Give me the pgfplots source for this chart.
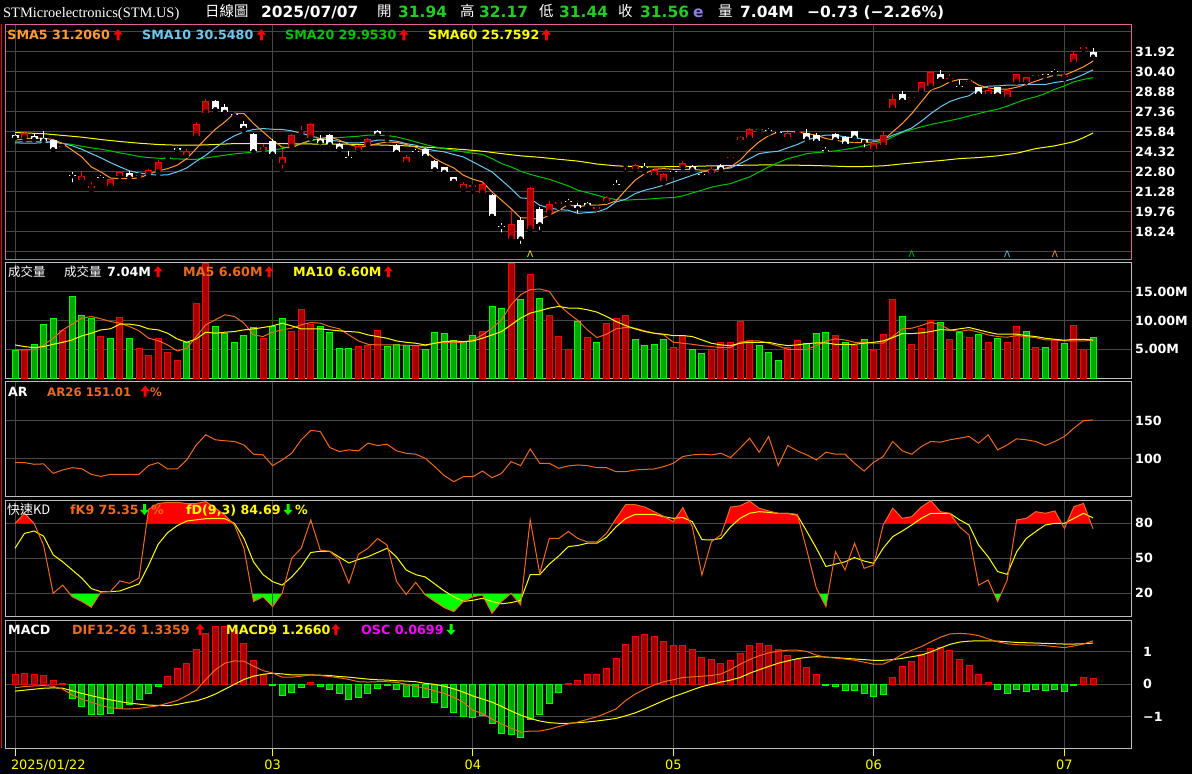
\documentclass[border=0pt]{standalone}
\usepackage{pgfplots}
\pgfplotsset{compat=1.18}
\usepackage{pgfplotstable}
\usepackage{fontspec}
\setmainfont{DejaVu Sans}
\newfontfamily\cjk{Noto Sans CJK TC}
\newfontfamily\serifF{Liberation Serif}
\definecolor{gridc}{HTML}{474747}
\definecolor{pinkb}{HTML}{E2609C}
\definecolor{greyb}{HTML}{BEBEBE}
\definecolor{cred}{HTML}{FF0000}
\definecolor{cdark}{HTML}{A80000}
\definecolor{gfill}{HTML}{00A800}
\definecolor{gline}{HTML}{00FF00}
\definecolor{smaA}{HTML}{FF9A30}
\definecolor{smaB}{HTML}{6CC8F2}
\definecolor{smaC}{HTML}{00C400}
\definecolor{yel}{HTML}{FFFF00}
\definecolor{org}{HTML}{EE6A1E}
\definecolor{hgreen}{HTML}{22CC22}
\definecolor{magc}{HTML}{FF00FF}
\definecolor{purp}{HTML}{8C7BE6}
\newcommand\hf{\fontsize{15.5}{18}\selectfont\bfseries}
\newcommand\cf{\fontsize{14.5}{17}\selectfont\cjk}
\newcommand\lf{\fontsize{12.7}{15}\selectfont\bfseries}
% arrow glyphs drawn as shapes: #1 = centre x, #2 = top y (px from top), #3 = colour
\newcommand\uparr[3]{\begin{scope}[shift={(#1bp,-#2bp)}]\fill[#3] (-4.6bp,-5.2bp) -- (0,0) -- (4.6bp,-5.2bp) -- (1.5bp,-5.2bp) -- (1.5bp,-11bp) -- (-1.5bp,-11bp) -- (-1.5bp,-5.2bp) -- cycle;\end{scope}}
\newcommand\dnarr[3]{\begin{scope}[shift={(#1bp,-#2bp)}]\fill[#3] (-1.5bp,0) -- (1.5bp,0) -- (1.5bp,-5.8bp) -- (4.6bp,-5.8bp) -- (0,-11bp) -- (-4.6bp,-5.8bp) -- (-1.5bp,-5.8bp) -- cycle;\end{scope}}

\pgfplotstableread{
i o h l c
0 25.60 25.65 25.35 25.40
1 25.39 25.85 25.20 25.79
2 25.54 25.65 25.20 25.28
3 25.39 25.89 24.95 25.18
4 25.21 25.25 24.32 24.52
5 24.70 24.90 24.55 24.80
6 22.55 22.80 21.86 22.47
7 22.22 22.90 22.12 22.47
8 21.60 22.02 21.28 21.70
9 22.42 22.60 22.17 22.35
10 21.74 22.35 21.59 22.29
11 22.50 22.80 22.17 22.77
12 22.70 22.85 22.25 22.40
13 22.50 22.60 22.30 22.60
14 22.62 23.00 22.55 22.93
15 22.80 23.69 22.55 23.56
16 23.85 24.00 23.61 23.90
17 24.55 24.70 24.32 24.50
18 24.07 24.57 24.02 24.42
19 25.54 26.60 25.46 26.47
20 27.31 28.30 27.25 28.22
21 28.15 28.25 27.44 27.56
22 27.74 27.94 27.28 27.36
23 27.15 27.28 26.83 27.10
24 26.45 26.65 25.89 26.14
25 25.69 25.75 24.27 24.37
26 24.47 24.90 24.19 24.68
27 25.18 25.28 23.94 24.19
28 23.51 24.52 22.88 23.92
29 24.70 25.65 24.65 25.59
30 25.72 26.27 25.59 25.80
31 25.39 26.50 25.30 26.47
32 25.33 25.64 24.65 25.03
33 25.59 25.65 24.57 24.90
34 24.95 25.00 24.45 24.57
35 23.90 24.37 23.69 23.85
36 24.45 24.85 24.27 24.78
37 24.83 25.40 24.80 25.33
38 25.94 26.00 25.60 25.66
39 25.55 25.79 25.21 25.60
40 24.88 24.95 24.30 24.32
41 23.56 24.05 23.50 23.94
42 24.35 24.52 24.12 24.30
43 24.57 24.65 23.97 24.02
44 23.61 23.71 22.75 23.00
45 23.16 23.20 22.67 22.80
46 22.40 22.45 22.05 22.12
47 21.59 22.04 21.36 21.91
48 21.65 21.84 21.28 21.80
49 21.23 21.95 21.20 21.91
50 21.08 21.10 19.44 19.46
51 18.67 18.95 18.04 18.62
52 17.74 19.89 17.48 18.88
53 19.13 19.38 17.18 17.74
54 18.50 21.68 18.24 21.61
55 19.96 20.14 18.24 18.82
56 19.71 20.57 19.56 20.39
57 20.40 20.65 20.06 20.45
58 20.55 20.72 20.27 20.50
59 20.32 20.44 19.46 20.06
60 20.47 20.52 20.06 20.27
61 20.00 20.12 19.56 20.10
62 20.60 20.95 20.55 20.85
63 21.86 22.17 21.59 21.82
64 23.28 23.46 22.80 23.33
65 23.00 23.38 22.93 23.31
66 23.13 23.46 22.77 23.08
67 22.60 23.18 22.50 22.98
68 22.14 22.72 21.91 22.67
69 22.82 23.00 22.60 22.78
70 23.10 23.61 23.06 23.46
71 23.26 23.36 22.88 23.00
72 22.62 22.80 22.40 22.57
73 22.75 23.18 22.55 23.05
74 23.26 23.41 22.88 23.00
75 23.82 24.07 23.69 23.90
76 25.23 25.49 24.88 25.44
77 25.39 26.12 25.33 26.09
78 26.00 26.24 25.89 26.06
79 25.96 26.10 25.72 25.92
80 25.82 25.89 25.64 25.77
81 25.46 25.82 25.40 25.79
82 25.74 25.94 25.66 25.79
83 25.79 26.09 25.08 25.33
84 25.64 25.79 25.08 25.16
85 24.47 24.68 24.24 24.42
86 25.71 25.75 25.20 25.28
87 25.46 25.50 24.90 24.95
88 25.89 25.94 25.21 25.41
89 25.28 25.33 24.50 25.08
90 24.57 25.05 24.50 25.03
91 24.83 25.89 24.70 25.64
92 27.66 28.68 27.66 28.37
93 28.75 28.98 28.09 28.25
94 28.42 28.63 28.27 28.47
95 28.96 29.65 28.90 29.59
96 29.31 30.45 29.20 30.40
97 30.27 30.53 29.72 29.84
98 29.86 30.20 29.74 29.92
99 29.30 29.77 29.14 29.26
100 29.60 29.77 29.44 29.70
101 29.21 29.25 28.63 28.75
102 28.68 29.31 28.63 29.01
103 29.21 29.25 28.42 28.68
104 28.45 29.05 28.40 29.01
105 29.64 30.25 29.60 30.20
106 29.59 30.00 29.14 29.97
107 30.10 30.32 29.94 30.15
108 30.17 30.32 29.84 30.12
109 30.45 30.60 30.22 30.40
110 29.97 30.32 29.82 30.07
111 31.11 31.92 31.11 31.72
112 32.10 32.35 32.05 32.29
113 31.94 32.17 31.44 31.56
}\ohlc

\pgfplotstableread{
i s5 s10 s20
0 25.21 25.00 25.08
1 25.30 24.99 25.10
2 25.39 24.98 25.13
3 25.35 25.03 25.10
4 25.26 25.08 25.08
5 24.95 24.95 24.98
6 24.45 24.78 24.88
7 23.94 24.52 24.75
8 23.18 24.19 24.63
9 22.80 23.87 24.52
10 22.34 23.51 24.40
11 22.29 23.18 24.24
12 22.29 22.88 24.12
13 22.34 22.72 23.97
14 22.62 22.62 23.89
15 22.88 22.55 23.84
16 23.05 22.58 23.81
17 23.31 22.80 23.79
18 23.81 23.10 23.76
19 24.57 23.60 23.76
20 25.33 24.07 23.86
21 26.04 24.63 23.97
22 26.60 25.13 24.07
23 27.26 25.54 24.17
24 27.23 25.84 24.24
25 26.47 26.02 24.29
26 25.84 26.09 24.37
27 25.21 26.04 24.45
28 24.68 26.02 24.57
29 24.63 25.92 24.75
30 24.95 25.74 24.95
31 25.21 25.54 25.16
32 25.33 25.33 25.33
33 25.46 25.21 25.41
34 25.21 25.13 25.41
35 24.88 25.00 25.46
36 24.70 25.00 25.51
37 24.78 25.08 25.59
38 24.95 25.21 25.59
39 25.08 25.21 25.56
40 25.03 25.13 25.46
41 24.88 24.95 25.28
42 24.68 24.83 25.08
43 24.37 24.57 24.88
44 23.81 24.42 24.70
45 23.43 24.32 24.57
46 23.10 24.12 24.45
47 22.55 23.94 24.32
48 22.24 23.56 24.22
49 22.04 23.18 24.12
50 21.28 22.80 23.81
51 20.65 22.17 23.43
52 20.01 21.53 23.18
53 19.31 20.83 22.85
54 19.31 20.77 22.62
55 19.18 20.27 22.42
56 19.51 20.06 22.24
57 19.89 19.94 21.99
58 20.32 19.89 21.74
59 20.14 19.65 21.41
60 20.27 19.71 21.23
61 20.27 19.76 21.03
62 20.34 20.01 20.83
63 20.60 20.52 20.70
64 21.41 20.72 20.65
65 22.17 21.15 20.70
66 22.67 21.41 20.72
67 23.00 21.59 20.77
68 23.05 21.79 20.83
69 23.00 22.04 20.85
70 23.00 22.29 20.98
71 23.00 22.55 21.20
72 22.93 22.80 21.41
73 22.93 22.93 21.64
74 23.00 23.00 21.79
75 23.18 23.10 21.91
76 23.69 23.43 22.17
77 24.45 23.81 22.42
78 25.08 24.19 22.80
79 25.55 24.30 23.18
80 25.84 24.37 23.51
81 25.89 24.63 23.81
82 25.84 24.88 23.99
83 25.71 25.21 24.19
84 25.59 25.46 24.27
85 25.33 25.59 24.32
86 25.21 25.59 24.40
87 25.08 25.46 24.50
88 25.03 25.39 24.63
89 25.03 25.28 24.78
90 25.08 25.21 24.93
91 25.21 25.26 25.08
92 25.84 25.59 25.46
93 26.47 25.84 25.79
94 27.23 26.14 26.02
95 28.12 26.65 26.22
96 29.01 27.23 26.40
97 29.26 27.74 26.55
98 29.64 28.15 26.70
99 29.82 28.40 26.85
100 29.82 28.58 27.05
101 29.39 29.08 27.23
102 29.18 29.31 27.41
103 29.08 29.33 27.56
104 29.08 29.39 27.79
105 29.23 29.39 28.07
106 29.44 29.44 28.32
107 29.69 29.44 28.50
108 29.94 29.44 28.75
109 30.15 29.59 29.08
110 30.15 29.69 29.33
111 30.45 29.89 29.64
112 30.78 30.20 29.82
113 31.21 30.55 29.95
}\sma

\pgfplotstableread{
i s60
0 25.79
3 25.70
5 25.57
7 25.44
9 25.26
11 25.11
13 24.98
15 24.88
17 24.83
19 24.83
21 24.88
23 24.95
27 24.95
31 24.92
35 24.90
39 24.83
41 24.78
43 24.68
45 24.60
47 24.50
49 24.37
51 24.19
53 24.02
55 23.91
57 23.76
59 23.62
61 23.40
63 23.26
65 23.21
67 23.18
69 23.20
71 23.22
73 23.26
75 23.28
77 23.32
79 23.33
83 23.30
85 23.26
87 23.21
89 23.21
91 23.26
93 23.41
95 23.54
97 23.66
99 23.81
101 23.89
103 24.02
105 24.22
107 24.57
109 24.78
111 25.10
112 25.40
113 25.76
}\smaS

\pgfplotstableread{
i v r m5 m10
0 4.71 0 4.88 5.76
1 4.88 1 4.88 5.47
2 5.76 0 4.88 5.29
3 9.24 0 5.76 5.47
4 10.29 0 6.92 5.87
5 8.31 1 8.37 6.22
6 14.13 0 9.36 6.63
7 10.81 0 10.40 7.33
8 10.41 0 10.70 7.79
9 7.15 1 10.29 8.37
10 6.80 0 9.83 8.55
11 10.47 1 9.53 9.36
12 6.80 0 8.95 9.36
13 5.06 1 8.20 9.13
14 3.84 1 6.92 8.55
15 6.80 1 6.51 8.37
16 4.36 1 5.76 7.79
17 3.14 1 4.71 6.80
18 6.22 0 5.17 6.22
19 12.91 1 7.21 6.80
20 19.90 1 9.24 7.97
21 8.90 0 10.12 7.79
22 7.79 0 10.99 7.97
23 6.10 0 10.70 8.08
24 7.33 0 9.53 8.37
25 8.72 0 7.50 8.55
26 6.80 1 7.21 8.78
27 8.95 0 7.97 9.07
28 10.29 0 8.37 9.53
29 8.02 1 8.66 9.07
30 11.86 1 9.24 8.55
31 9.24 1 9.65 8.55
32 8.90 0 9.53 8.55
33 7.97 0 8.95 8.37
34 5.17 0 8.55 8.20
35 5.17 0 7.50 8.08
36 5.41 1 6.45 7.97
37 5.58 1 5.87 7.50
38 8.20 1 5.75 7.21
39 5.41 0 5.75 6.92
40 5.76 0 5.75 6.45
41 5.58 0 5.70 6.22
42 5.58 1 5.64 6.05
43 5.00 0 5.64 5.76
44 7.85 0 6.05 6.05
45 7.67 0 6.22 6.34
46 6.45 0 6.22 6.45
47 6.34 0 6.22 6.34
48 7.33 0 6.63 6.45
49 8.02 1 7.50 6.92
50 12.38 0 8.66 7.50
51 12.03 0 10.12 8.08
52 19.90 1 12.73 9.24
53 13.60 0 14.48 10.41
54 17.97 1 15.35 11.28
55 13.90 0 15.47 11.69
56 10.81 1 15.06 12.15
57 7.15 1 12.73 12.44
58 5.00 1 11.28 12.15
59 9.83 0 10.00 12.15
60 6.98 1 8.37 11.86
61 6.22 0 7.03 11.45
62 9.42 1 7.62 10.70
63 10.29 1 8.55 9.83
64 10.93 1 8.78 9.13
65 6.63 0 8.66 8.55
66 5.58 0 8.20 8.08
67 5.76 0 7.79 7.79
68 6.74 0 7.50 7.62
69 5.23 1 6.22 7.38
70 7.33 1 6.05 7.38
71 5.00 0 5.87 7.21
72 4.19 0 5.64 6.63
73 4.88 1 5.47 6.05
74 6.22 1 5.29 5.76
75 6.10 1 5.29 5.64
76 9.77 1 6.22 6.05
77 6.51 1 6.45 6.22
78 5.58 0 6.45 6.22
79 4.48 0 6.05 6.22
80 2.97 0 5.58 5.87
81 5.29 1 5.00 5.64
82 6.45 1 5.00 5.76
83 6.05 0 5.00 5.99
84 7.67 0 5.64 6.10
85 7.85 0 6.45 6.10
86 7.33 1 6.80 5.87
87 6.22 0 6.63 5.87
88 5.58 1 6.22 5.87
89 6.74 0 6.22 6.05
90 4.71 1 6.05 6.22
91 7.62 1 6.05 6.45
92 13.72 1 7.21 7.03
93 10.76 0 8.55 7.73
94 5.76 1 8.66 7.73
95 8.55 1 9.13 7.85
96 9.94 1 9.71 8.08
97 9.71 0 9.24 8.43
98 6.74 1 8.37 8.31
99 7.97 0 8.08 8.55
100 6.98 1 8.37 8.78
101 7.50 0 7.97 8.37
102 6.22 1 7.50 7.97
103 6.92 0 7.21 7.62
104 6.10 1 7.09 7.62
105 8.90 1 7.38 7.62
106 8.14 0 7.21 7.38
107 5.23 1 7.03 7.21
108 5.35 0 6.63 6.92
109 6.57 1 6.63 6.74
110 5.93 0 6.45 6.57
111 9.07 1 6.45 6.74
112 4.88 1 6.45 6.74
113 7.09 0 6.60 6.60
}\vol

\pgfplotstableread{
i a
0 94.7
1 94.7
2 92.5
3 93.0
4 80.5
5 85.0
6 88.0
7 86.5
8 79.2
9 76.5
10 79.2
11 79.2
12 79.2
13 79.2
14 90.7
15 94.7
16 86.3
17 86.3
18 98.2
19 118.0
20 131.4
21 124.8
22 123.5
23 122.6
24 118.0
25 105.8
26 104.9
27 90.7
28 98.2
29 107.0
30 124.8
31 137.2
32 135.8
33 114.6
34 109.3
35 111.5
36 110.2
37 120.4
38 117.3
39 119.0
40 110.2
41 107.0
42 105.8
43 100.4
44 89.4
45 77.4
46 69.5
47 76.1
48 76.1
49 83.6
50 74.8
51 80.5
52 96.0
53 90.7
54 112.8
55 93.8
56 93.8
57 87.2
58 90.3
59 91.6
60 90.7
61 88.0
62 88.0
63 82.7
64 82.7
65 85.0
66 85.8
67 86.3
68 89.4
69 93.8
70 102.7
71 104.9
72 105.8
73 104.9
74 107.0
75 101.3
76 113.7
77 127.0
78 108.4
79 129.2
80 90.7
81 117.3
82 110.2
83 104.9
84 98.2
85 108.4
86 105.8
87 105.8
88 93.8
89 83.6
90 95.1
91 102.7
92 122.6
93 110.2
94 105.8
95 115.9
96 122.6
97 121.7
98 124.8
99 127.0
100 129.2
101 120.4
102 131.4
103 111.5
104 118.0
105 126.1
106 124.8
107 122.6
108 117.3
109 122.6
110 129.2
111 140.3
112 150.0
113 151.0
}\ar

\pgfplotstableread{
i k d
0 80 58.6
1 88.6 71.4
2 80 73.4
3 61 69
4 20 53
5 27 47
6 17 40
7 13 33
8 8 24
9 21 21.4
10 21.5 21.4
11 30.6 22
12 28.6 25
13 33 28
14 92 44
15 97 62
16 98 72
17 98 78
18 97 82
19 97 83
20 98.6 84
21 93 84.3
22 87 84
23 78.6 80
24 58.6 67
25 13 47
26 17 36
27 8.6 30
28 20 27
29 50 34
30 58.6 43
31 82.9 55
32 57 56
33 56 56
34 48.6 51
35 28.6 46
36 53.4 49
37 58.6 51.4
38 67 55
39 61.4 58.6
40 30 51
41 19 40
42 29.4 36
43 18.6 34
44 13 28
45 7.7 22
46 4.3 17
47 13 13
48 17 14
49 18.6 15.7
50 2.9 13
51 13 11
52 20 12
53 10 14
54 83 36
55 37 36
56 67 45
57 67 52
58 73 60
59 67 61
60 64 63
61 64 63
62 71.4 68
63 84 77
64 96 84
65 96 87.7
66 94 87.7
67 90 87.7
68 86 85.7
69 81.4 84.3
70 93.4 85
71 77 81.4
72 35.7 66
73 64.3 65.7
74 70 67
75 94 77
76 95 84.3
77 99 88.6
78 93 90
79 90.6 89.4
80 88.6 88.6
81 88.6 88.6
82 87.7 87
83 57 73
84 24.3 58.6
85 8.6 43
86 55.7 45
87 40 47
88 62.9 50.6
89 41.4 47.7
90 44.3 45.7
91 78.6 58.6
92 93 68.6
93 84.3 73.4
94 85.7 78.6
95 94 84.3
96 99.4 88.6
97 90 88.6
98 88.6 88.6
99 77 83
100 70 78.6
101 27 61.4
102 31.4 51.4
103 13 38.6
104 31.4 36.3
105 82.9 55.7
106 84.3 67
107 90 73
108 88.6 78.6
109 90.6 80
110 75.7 80
111 94.3 84.3
112 97 88.6
113 75.35 84.69
}\kd

\pgfplotstableread{
i h dif dea
0 0.29 -0.10 -0.21
1 0.34 -0.07 -0.18
2 0.31 -0.05 -0.15
3 0.28 -0.04 -0.12
4 0.12 -0.06 -0.11
5 0.03 -0.15 -0.12
6 -0.43 -0.33 -0.20
7 -0.69 -0.45 -0.28
8 -0.92 -0.55 -0.35
9 -0.92 -0.65 -0.42
10 -0.89 -0.72 -0.48
11 -0.74 -0.75 -0.53
12 -0.62 -0.76 -0.58
13 -0.46 -0.74 -0.61
14 -0.28 -0.70 -0.64
15 -0.07 -0.66 -0.65
16 0.23 -0.58 -0.66
17 0.49 -0.50 -0.62
18 0.65 -0.35 -0.56
19 1.06 -0.18 -0.51
20 1.57 0.15 -0.42
21 1.79 0.45 -0.30
22 1.79 0.65 -0.15
23 1.67 0.72 0.00
24 1.26 0.71 0.15
25 0.73 0.56 0.25
26 0.31 0.42 0.31
27 -0.04 0.35 0.34
28 -0.35 0.22 0.32
29 -0.25 0.22 0.29
30 -0.10 0.25 0.29
31 0.06 0.29 0.29
32 -0.06 0.27 0.28
33 -0.17 0.24 0.27
34 -0.29 0.20 0.24
35 -0.46 0.15 0.22
36 -0.41 0.08 0.19
37 -0.29 0.07 0.16
38 -0.12 0.08 0.14
39 -0.04 0.08 0.13
40 -0.15 0.06 0.11
41 -0.36 0.00 0.10
42 -0.38 -0.06 0.08
43 -0.41 -0.12 0.03
44 -0.55 -0.20 0.00
45 -0.72 -0.28 -0.06
46 -0.86 -0.40 -0.14
47 -0.99 -0.55 -0.24
48 -1.03 -0.80 -0.36
49 -0.96 -0.90 -0.45
50 -1.20 -1.07 -0.55
51 -1.51 -1.22 -0.68
52 -1.56 -1.35 -0.82
53 -1.64 -1.47 -0.95
54 -1.08 -1.44 -1.05
55 -0.94 -1.44 -1.13
56 -0.58 -1.38 -1.18
57 -0.25 -1.30 -1.20
58 0.03 -1.22 -1.20
59 0.12 -1.16 -1.18
60 0.29 -1.08 -1.16
61 0.31 -1.00 -1.13
62 0.49 -0.88 -1.09
63 0.80 -0.76 -1.05
64 1.23 -0.50 -0.97
65 1.47 -0.30 -0.88
66 1.54 -0.15 -0.76
67 1.47 -0.02 -0.63
68 1.33 0.08 -0.50
69 1.21 0.14 -0.38
70 1.18 0.21 -0.28
71 1.06 0.23 -0.17
72 0.83 0.25 -0.07
73 0.75 0.27 0.00
74 0.65 0.32 0.07
75 0.72 0.45 0.13
76 0.95 0.62 0.21
77 1.18 0.76 0.34
78 1.26 0.88 0.45
79 1.21 0.97 0.55
80 1.08 1.02 0.65
81 0.90 1.05 0.72
82 0.75 1.05 0.79
83 0.51 1.01 0.83
84 0.31 0.90 0.85
85 -0.04 0.83 0.84
86 -0.06 0.81 0.82
87 -0.19 0.78 0.80
88 -0.19 0.74 0.78
89 -0.28 0.68 0.76
90 -0.38 0.62 0.74
91 -0.31 0.62 0.74
92 0.22 0.75 0.76
93 0.54 0.92 0.80
94 0.70 1.05 0.85
95 0.92 1.16 0.90
96 1.11 1.31 1.00
97 1.13 1.45 1.12
98 1.03 1.55 1.23
99 0.77 1.57 1.30
100 0.57 1.55 1.33
101 0.31 1.50 1.34
102 0.06 1.40 1.34
103 -0.15 1.31 1.33
104 -0.28 1.25 1.31
105 -0.17 1.22 1.29
106 -0.21 1.21 1.28
107 -0.17 1.21 1.27
108 -0.18 1.19 1.26
109 -0.15 1.16 1.25
110 -0.21 1.13 1.24
111 -0.04 1.18 1.24
112 0.22 1.24 1.25
113 0.18 1.34 1.27
}\macd

\pgfplotsset{
  panel/.style={
    scale only axis, width=1126bp, anchor=north west,
    xmin=-0.975, xmax=117.05,
    axis line style={draw=greyb, line width=1bp},
    grid=major, major grid style={draw=gridc, line width=1bp},
    xtick={0,27,48,69,90,110}, xticklabels={},
    tick style={draw=none},
    yticklabel pos=right,
    yticklabel style={font=\lf, text=white, anchor=west},
  },
  overlay/.style={
    scale only axis, width=1126bp, anchor=north west,
    xmin=-0.975, xmax=117.05, hide axis,
  },
}

\begin{document}
\begin{tikzpicture}
\path[use as bounding box] (0,0) rectangle (1192bp,-774bp);
\fill[black] (0,0) rectangle (1192bp,-774bp);

% ---------------- price panel
\begin{axis}[panel, at={(5.7bp,-24bp)}, height=235.3bp,
  axis line style={draw=pinkb, line width=1bp},
  ymin=16.165, ymax=34.03,
  ytick={16.72,18.24,19.76,21.28,22.80,24.32,25.84,27.36,28.88,30.40,31.92,33.44},
  yticklabels={,18.24,19.76,21.28,22.80,24.32,25.84,27.36,28.88,30.40,31.92,}]
\addplot[yel, line width=1bp] table[x=i,y=s60]{\smaS};
\addplot[smaC, line width=1bp] table[x=i,y=s20]{\sma};
\addplot[smaB, line width=1bp] table[x=i,y=s10]{\sma};
\addplot[smaA, line width=1bp] table[x=i,y=s5]{\sma};
% red candles (close >= open)
\addplot[only marks, mark=none, forget plot,
  restrict expr to domain={\thisrow{c}-\thisrow{o}}{0:100},
  error bars/.cd, y dir=plus, y explicit, error mark=none,
  error bar style={draw=cred, line width=1bp}]
  table[x=i, y=l, y error plus expr={\thisrow{h}-\thisrow{l}}]{\ohlc};
\addplot[only marks, mark=none, forget plot,
  restrict expr to domain={\thisrow{c}-\thisrow{o}}{0:100},
  error bars/.cd, y dir=plus, y explicit, error mark=none,
  error bar style={draw=cred, line width=7bp}]
  table[x=i, y expr={min(\thisrow{o},\thisrow{c})}, y error plus expr={max(abs(\thisrow{c}-\thisrow{o}),0.08)}]{\ohlc};
\addplot[only marks, mark=none, forget plot,
  restrict expr to domain={\thisrow{c}-\thisrow{o}}{0:100},
  error bars/.cd, y dir=plus, y explicit, error mark=none,
  error bar style={draw=cdark, line width=5bp}]
  table[x=i, y expr={min(\thisrow{o},\thisrow{c})+0.076}, y error plus expr={max(abs(\thisrow{c}-\thisrow{o})-0.152,0)}]{\ohlc};
% white candles (close < open)
\addplot[only marks, mark=none, forget plot,
  restrict expr to domain={\thisrow{c}-\thisrow{o}}{-100:-0.000001},
  error bars/.cd, y dir=plus, y explicit, error mark=none,
  error bar style={draw=white, line width=1bp}]
  table[x=i, y=l, y error plus expr={\thisrow{h}-\thisrow{l}}]{\ohlc};
\addplot[only marks, mark=none, forget plot,
  restrict expr to domain={\thisrow{c}-\thisrow{o}}{-100:-0.000001},
  error bars/.cd, y dir=plus, y explicit, error mark=none,
  error bar style={draw=white, line width=7bp}]
  table[x=i, y expr={min(\thisrow{o},\thisrow{c})}, y error plus expr={max(abs(\thisrow{c}-\thisrow{o}),0.08)}]{\ohlc};
% signal marks
\addplot[only marks, mark=text, text mark={\fontsize{9}{9}\selectfont\color{yel}Λ}] coordinates {(54,16.55)};
\addplot[only marks, mark=text, text mark={\fontsize{9}{9}\selectfont\color{smaC}Λ}] coordinates {(94,16.55)};
\addplot[only marks, mark=text, text mark={\fontsize{9}{9}\selectfont\color{smaB}Λ}] coordinates {(104,16.55)};
\addplot[only marks, mark=text, text mark={\fontsize{9}{9}\selectfont\color{smaA}Λ}] coordinates {(109,16.55)};
\end{axis}

% ---------------- volume panel
\begin{axis}[panel, at={(5.7bp,-262.3bp)}, height=115.8bp,
  ymin=0, ymax=20.1, ytick={5,10,15}, yticklabels={5.00M,10.00M,15.00M}]
\addplot[ybar, bar width=6bp, bar shift=0pt, fill=cdark, draw=cred, line width=1bp,
  restrict expr to domain={\thisrow{r}}{0.5:1.5}] table[x=i,y=v]{\vol};
\addplot[ybar, bar width=6bp, bar shift=0pt, fill=gfill, draw=gline, line width=1bp,
  restrict expr to domain={\thisrow{r}}{-0.5:0.5}] table[x=i,y=v]{\vol};
\addplot[org, line width=1bp] table[x=i,y=m5]{\vol};
\addplot[yel, line width=1bp] table[x=i,y=m10]{\vol};
\end{axis}

% ---------------- AR panel
\begin{axis}[panel, at={(5.7bp,-381.3bp)}, height=115.4bp,
  ymin=49.7, ymax=202, ytick={100,150}, yticklabels={100,150}]
\addplot[org, line width=1bp] table[x=i,y=a]{\ar};
\end{axis}

% ---------------- KD panel
% red area: K above 80 (axis clipped to 80..100)
\begin{axis}[overlay, at={(5.7bp,-500bp)}, height=23.33bp, ymin=80, ymax=100]
\addplot[fill=red, draw=none] table[x=i,y=k]{\kd} \closedcycle;
\end{axis}
% green area: K below 20 (axis clipped to 0..20)
\begin{axis}[overlay, at={(5.7bp,-593.33bp)}, height=23.33bp, ymin=0, ymax=20, stack plots=y]
\addplot[draw=none] table[x=i,y=k]{\kd};
\addplot[fill=gline, draw=none] table[x=i, y expr={100-\thisrow{k}}]{\kd} \closedcycle;
\end{axis}
\begin{axis}[panel, at={(5.7bp,-500bp)}, height=116.6bp,
  ymin=0, ymax=100, ytick={20,50,80}, yticklabels={20,50,80}]
\addplot[yel, line width=1bp] table[x=i,y=d]{\kd};
\addplot[org, line width=1bp] table[x=i,y=k]{\kd};
\end{axis}

% ---------------- MACD panel
\begin{axis}[panel, at={(5.7bp,-620bp)}, height=128.3bp,
  ymin=-1.97, ymax=1.98, ytick={-1,0,1}, yticklabels={−1,0,1},
  xtick pos=bottom, tick align=outside, major tick length=8bp,
  xtick style={draw=yel, line width=1bp}, ytick style={draw=none},
  xticklabels={\makebox[0pt][l]{\hspace*{-4bp}2025/01/22},03,04,05,06,07},
  xticklabel style={text=yel, font=\fontsize{13}{15}\selectfont, anchor=north}]
\addplot[ybar, bar width=6bp, bar shift=0pt, fill=cdark, draw=cred, line width=1bp,
  restrict y to domain=0:5] table[x=i,y=h]{\macd};
\addplot[ybar, bar width=6bp, bar shift=0pt, fill=gfill, draw=gline, line width=1bp,
  restrict y to domain=-5:0] table[x=i,y=h]{\macd};
\addplot[yel, line width=1bp] table[x=i,y=dea]{\macd};
\addplot[org, line width=1bp] table[x=i,y=dif]{\macd};
\end{axis}

\draw[cred, line width=1bp] (1.5bp,-24bp) -- (1.5bp,-748bp);

% ---------------- header
\node[anchor=base west, inner sep=0, text=white, font=\serifF\fontsize{14.5}{17}\selectfont] at (3bp,-17bp) {STMicroelectronics(STM.US)};
\node[anchor=base west, inner sep=0, text=white, font=\cf] at (205bp,-16.5bp) {日線圖};
\node[anchor=base west, inner sep=0, text=white, font=\hf] at (261bp,-17.5bp) {2025/07/07};
\node[anchor=base west, inner sep=0, text=white, font=\cf] at (377bp,-16.5bp) {開};
\node[anchor=base west, inner sep=0, text=hgreen, font=\hf] at (398bp,-17.5bp) {31.94};
\node[anchor=base west, inner sep=0, text=white, font=\cf] at (460bp,-16.5bp) {高};
\node[anchor=base west, inner sep=0, text=hgreen, font=\hf] at (479bp,-17.5bp) {32.17};
\node[anchor=base west, inner sep=0, text=white, font=\cf] at (539bp,-16.5bp) {低};
\node[anchor=base west, inner sep=0, text=hgreen, font=\hf] at (559bp,-17.5bp) {31.44};
\node[anchor=base west, inner sep=0, text=white, font=\cf] at (618bp,-16.5bp) {收};
\node[anchor=base west, inner sep=0, text=hgreen, font=\hf] at (640bp,-17.5bp) {31.56};
\node[anchor=base west, inner sep=0, text=purp, font=\hf] at (693bp,-17.5bp) {e};
\node[anchor=base west, inner sep=0, text=white, font=\cf] at (718bp,-16.5bp) {量};
\node[anchor=base west, inner sep=0, text=white, font=\hf] at (740bp,-17.5bp) {7.04M};
\node[anchor=base west, inner sep=0, text=white, font=\hf] at (807bp,-17.5bp) {−0.73 (−2.26\%)};

% ---------------- price legend
\node[anchor=base west, inner sep=0, font=\lf, text=smaA] at (7.3bp,-39.3bp) {SMA5 31.2060};
\uparr{118}{29.3}{cred}
\node[anchor=base west, inner sep=0, font=\lf, text=smaB] at (142bp,-39.3bp) {SMA10 30.5480};
\uparr{261.3}{29.3}{cred}
\node[anchor=base west, inner sep=0, font=\lf, text=smaC] at (285bp,-39.3bp) {SMA20 29.9530};
\uparr{403.8}{29.3}{cred}
\node[anchor=base west, inner sep=0, font=\lf, text=yel] at (428bp,-39.3bp) {SMA60 25.7592};
\uparr{546.3}{29.3}{cred}

% ---------------- volume legend
\node[anchor=base west, inner sep=0, text=white, font=\fontsize{12.5}{15}\selectfont\cjk] at (8bp,-276.5bp) {成交量};
\node[anchor=base west, inner sep=0, text=white, font=\fontsize{12.5}{15}\selectfont\cjk] at (64bp,-276.5bp) {成交量};
\node[anchor=base west, inner sep=0, font=\lf, text=white] at (107bp,-276.7bp) {7.04M};
\uparr{158}{266.2}{cred}
\node[anchor=base west, inner sep=0, font=\lf, text=org] at (183bp,-276.7bp) {MA5 6.60M};
\uparr{269}{266.2}{cred}
\node[anchor=base west, inner sep=0, font=\lf, text=yel] at (293bp,-276.7bp) {MA10 6.60M};
\uparr{388.3}{266.2}{cred}

% ---------------- AR legend
\node[anchor=base west, inner sep=0, font=\lf, text=white] at (8bp,-396bp) {AR};
\node[anchor=base west, inner sep=0, font=\fontsize{11.8}{14}\selectfont\bfseries, text=org] at (47bp,-396bp) {AR26 151.01};
\uparr{145.2}{385.6}{cred}
\node[anchor=base west, inner sep=0, font=\fontsize{11.8}{14}\selectfont\bfseries, text=org] at (150bp,-396bp) {\%};

% ---------------- KD legend
\node[anchor=base west, inner sep=0, text=white, font=\fontsize{13}{15}\selectfont\cjk] at (7bp,-514.5bp) {快速KD};
\node[anchor=base west, inner sep=0, font=\lf, text=org] at (70bp,-514.5bp) {fK9 75.35};
\dnarr{144.5}{504}{gline}
\node[anchor=base west, inner sep=0, font=\lf, text=org] at (151bp,-514.5bp) {\%};
\node[anchor=base west, inner sep=0, font=\lf, text=yel] at (186bp,-514.5bp) {fD(9,3) 84.69};
\dnarr{288}{504}{gline}
\node[anchor=base west, inner sep=0, font=\lf, text=yel] at (295bp,-514.5bp) {\%};

% ---------------- MACD legend
\node[anchor=base west, inner sep=0, font=\lf, text=white] at (8bp,-634.5bp) {MACD};
\node[anchor=base west, inner sep=0, font=\lf, text=org] at (72bp,-634.5bp) {DIF12-26 1.3359};
\uparr{200}{624}{cred}
\node[anchor=base west, inner sep=0, font=\lf, text=yel] at (226bp,-634.5bp) {MACD9 1.2660};
\uparr{335.8}{624}{cred}
\node[anchor=base west, inner sep=0, font=\lf, text=magc] at (361bp,-634.5bp) {OSC 0.0699};
\dnarr{451}{624}{gline}
\end{tikzpicture}
\end{document}
